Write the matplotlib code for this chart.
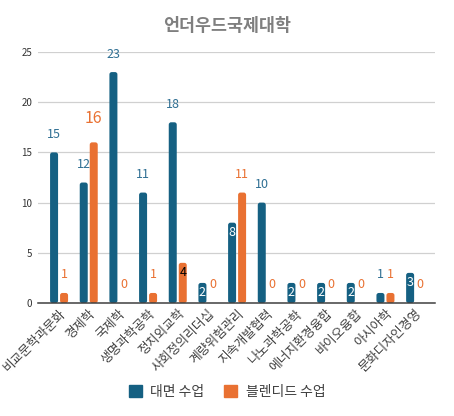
import numpy as np
import matplotlib
matplotlib.use('Agg')
import matplotlib.pyplot as plt
from matplotlib.patches import FancyBboxPatch, Patch

plt.rcParams['font.family'] = ['Noto Sans CJK KR', 'DejaVu Sans']

title = '언더우드국제대학'
categories = ['비교문학과문화', '경제학', '국제학', '생명과학공학', '정치외교학',
              '사회정의리더십', '계량위험관리', '지속개발협력', '나노과학공학',
              '에너지환경융합', '바이오융합', '아시아학', '문화디자인경영']
offline = [15, 12, 23, 11, 18, 2, 8, 10, 2, 2, 2, 1, 3]
blended = [1, 16, 0, 1, 4, 0, 11, 0, 0, 0, 0, 1, 0]
series_names = ['대면 수업', '블렌디드 수업']

BLUE = '#156082'
ORANGE = '#E97132'
BLUE_TXT = '#2f6f93'

fig = plt.figure(figsize=(4.54, 4.16), dpi=100)
ax = fig.add_axes([38/454, 1-303/416, 397/454, 251/416])

x = np.arange(len(categories))
w = 8/29.67
gap = 2/29.67
b1 = ax.bar(x - (w+gap)/2, offline, w, color=BLUE, zorder=3)
b2 = ax.bar(x + (w+gap)/2, blended, w, color=ORANGE, zorder=3)

# rounded corners
asp = 29.67/10.04
for rects in (b1, b2):
    for r in rects:
        if r.get_height() <= 0:
            r.set_visible(False)
            continue
        fb = FancyBboxPatch((r.get_x(), 0), r.get_width(), r.get_height(),
                            boxstyle='round,pad=0,rounding_size=0.08',
                            mutation_aspect=asp, fc=r.get_facecolor(),
                            ec='none', zorder=3)
        r.set_visible(False)
        ax.add_patch(fb)

# data labels
for i, v in enumerate(offline):
    xp = x[i] - (w+gap)/2
    if 2 <= v < 10:
        ax.text(xp, v - 1, str(v), color='white', ha='center', va='center',
                fontsize=9, zorder=4)
    else:
        ax.text(xp, v + 1.8, str(v), color=BLUE_TXT, ha='center', va='center',
                fontsize=9, zorder=4, clip_on=False)
for i, v in enumerate(blended):
    xp = x[i] + (w+gap)/2
    if v == 4:
        ax.text(xp, v - 1, str(v), color='black', ha='center', va='center',
                fontsize=9, zorder=4)
    elif v >= 16:
        ax.text(xp, v + 2.4, str(v), color=ORANGE, ha='center', va='center',
                fontsize=11.5, zorder=4)
    else:
        ax.text(xp, v + 1.8, str(v), color=ORANGE, ha='center', va='center',
                fontsize=9, zorder=4)

ax.set_xlim(-0.71, 12.67)
ax.set_ylim(0, 25)
ax.set_yticks([0, 5, 10, 15, 20, 25])
ax.yaxis.grid(True, color='#d0d0d0', lw=0.9, zorder=0)
ax.set_axisbelow(True)
for s in ['top', 'right', 'left']:
    ax.spines[s].set_visible(False)
ax.spines['bottom'].set_color('#404040')
ax.spines['bottom'].set_linewidth(1.1)
ax.spines['bottom'].set_zorder(5)
ax.tick_params(axis='y', length=0, pad=4, labelsize=7, labelcolor='#333333')
ax.tick_params(axis='x', length=0, pad=3)
ax.set_xticks(x)
ax.set_xticklabels(categories, rotation=45, ha='right', va='top',
                   rotation_mode='anchor', fontsize=9.2, color='#404040')

fig.text(0.5, 1-26/416, title, ha='center', va='center', fontsize=12.5,
         fontweight='bold', color='#7f7f7f')

handles = [Patch(color=BLUE), Patch(color=ORANGE)]
fig.legend(handles, series_names, loc='center', bbox_to_anchor=(0.5, 1-392/416),
           ncol=2, frameon=False, fontsize=10, handlelength=0.95, handleheight=0.95,
           handletextpad=0.6, columnspacing=1.4, labelcolor='#404040')

fig.savefig('out.png', dpi=100)
